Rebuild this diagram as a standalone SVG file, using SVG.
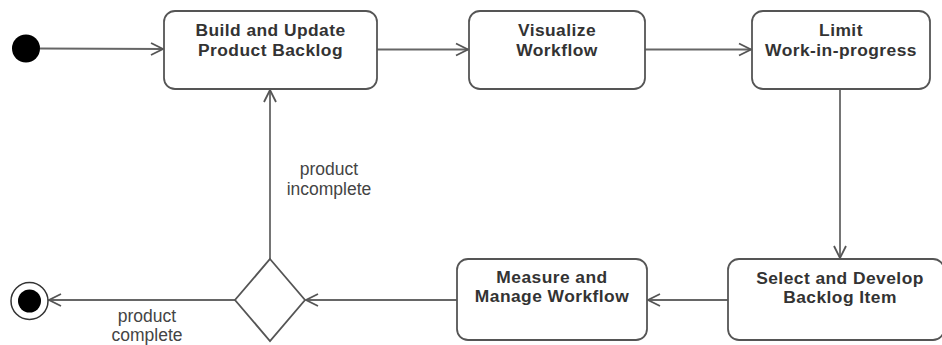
<svg xmlns="http://www.w3.org/2000/svg" width="942" height="345" viewBox="0 0 942 345">
  <style>
    .act { fill: #ffffff; stroke: #555555; stroke-width: 1.8; }
    .lbl { font-family: "Liberation Sans", Arial, sans-serif; font-size: 17.4px; font-weight: bold; letter-spacing: 0.45px; fill: #333333; text-anchor: middle; }
    .edge { fill: none; stroke: #666666; stroke-width: 1.8; }
    .guard { font-family: "Liberation Sans", Arial, sans-serif; font-size: 17.5px; fill: #444444; text-anchor: middle; }
  </style>
  <defs>
    <marker id="open" markerUnits="userSpaceOnUse" markerWidth="16" markerHeight="16" viewBox="0 0 16 16" refX="13" refY="8" orient="auto">
      <path d="M1,2 L13,8 L1,14" fill="none" stroke="#555555" stroke-width="1.8"/>
    </marker>
  </defs>
  <rect width="942" height="345" fill="#ffffff"/>

  <g id="edges">
    <line class="edge" x1="40" y1="48.5" x2="163" y2="49" marker-end="url(#open)"/>
    <line class="edge" x1="377" y1="49.5" x2="468" y2="49.5" marker-end="url(#open)"/>
    <line class="edge" x1="645" y1="49.5" x2="751" y2="49.5" marker-end="url(#open)"/>
    <line class="edge" x1="840" y1="89" x2="840" y2="258" marker-end="url(#open)"/>
    <line class="edge" x1="728" y1="300" x2="648" y2="300" marker-end="url(#open)"/>
    <line class="edge" x1="457" y1="300" x2="306" y2="300" marker-end="url(#open)"/>
    <line class="edge" x1="235" y1="300" x2="49" y2="300" marker-end="url(#open)"/>
    <line class="edge" x1="270" y1="259" x2="270" y2="90" marker-end="url(#open)"/>
    <text class="guard" x="329" y="174.5">product</text>
    <text class="guard" x="329" y="194.5">incomplete</text>
    <text class="guard" x="147" y="321.5">product</text>
    <text class="guard" x="147" y="341">complete</text>
  </g>

  <g id="start">
    <circle cx="26" cy="48.5" r="14" fill="#000000"/>
  </g>

  <g id="build-backlog">
    <rect class="act" x="164" y="11" width="213" height="78" rx="11"/>
    <text class="lbl" x="270.5" y="36">Build and Update</text>
    <text class="lbl" x="270.5" y="55.6">Product Backlog</text>
  </g>

  <g id="visualize">
    <rect class="act" x="469" y="11" width="176" height="78" rx="11"/>
    <text class="lbl" x="557" y="36">Visualize</text>
    <text class="lbl" x="557" y="55.6">Workflow</text>
  </g>

  <g id="limit-wip">
    <rect class="act" x="752" y="11" width="178" height="78" rx="11"/>
    <text class="lbl" x="841" y="36">Limit</text>
    <text class="lbl" x="841" y="55.6">Work-in-progress</text>
  </g>

  <g id="select-develop">
    <rect class="act" x="728" y="259" width="216" height="81" rx="11"/>
    <text class="lbl" x="840" y="283.5">Select and Develop</text>
    <text class="lbl" x="840" y="303.1">Backlog Item</text>
  </g>

  <g id="measure-manage">
    <rect class="act" x="457" y="259" width="190" height="81" rx="11"/>
    <text class="lbl" x="552" y="282.5">Measure and</text>
    <text class="lbl" x="552" y="302.1">Manage Workflow</text>
  </g>

  <g id="decision">
    <polygon class="act" points="270,259 305,300 270,341 235,300"/>
  </g>

  <g id="end">
    <circle cx="29.5" cy="301" r="18.5" fill="#ffffff" stroke="#333333" stroke-width="1.5"/>
    <circle cx="29.5" cy="301" r="11.5" fill="#000000"/>
  </g>
</svg>
